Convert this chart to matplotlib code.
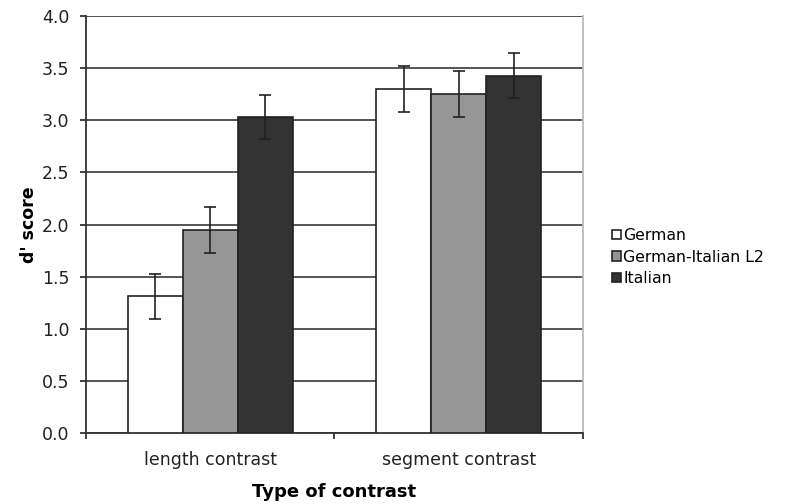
import numpy as np
import matplotlib.pyplot as plt
from matplotlib.ticker import MultipleLocator, FixedLocator

# Data
categories = ["length contrast", "segment contrast"]
groups = ["German", "German-Italian L2", "Italian"]
german = [1.31, 3.30]
german_l2 = [1.95, 3.25]
italian = [3.03, 3.43]
german_err = [0.22, 0.22]
german_l2_err = [0.22, 0.22]
italian_err = [0.21, 0.22]

values = [german, german_l2, italian]
errors = [german_err, german_l2_err, italian_err]
colors = ["white", "#969696", "#333333"]

fig = plt.figure(figsize=(7.9, 5.04), dpi=100)
ax = fig.add_axes([0.1089, 0.1409, 0.629, 0.827])

x = np.arange(len(categories))
width = 0.221
offsets = [-width, 0, width]

handles = []
for vals, errs, col, off, name in zip(values, errors, colors, offsets, groups):
    b = ax.bar(x + off, vals, width, color=col, edgecolor="#222222", linewidth=1.2,
               zorder=3, label=name)
    ax.errorbar(x + off, vals, yerr=errs, fmt="none", ecolor="#222222",
                elinewidth=1.2, capsize=4, capthick=1.2, zorder=4)
    handles.append(b)

ax.set_xlim(-0.5, len(categories) - 0.5)
ax.set_ylim(0, 4.0)
ax.yaxis.set_major_locator(MultipleLocator(0.5))
ax.yaxis.set_major_formatter(plt.FormatStrFormatter("%.1f"))
ax.yaxis.grid(True, color="#555555", linewidth=1.4, zorder=0)
ax.set_axisbelow(True)

ax.set_xticks(x)
ax.set_xticklabels(categories, fontsize=12.5, color="#222222")
ax.tick_params(axis="x", which="major", length=0, pad=13)
ax.xaxis.set_minor_locator(FixedLocator([-0.5, 0.5, 1.5]))
ax.tick_params(axis="x", which="minor", length=4, width=1.3, color="#333333")
ax.tick_params(axis="y", length=4, width=1.3, color="#333333", pad=8,
               labelsize=12.5, labelcolor="#222222")

ax.spines["top"].set_visible(False)
ax.spines["right"].set_color("#bbbbbb")
ax.spines["right"].set_linewidth(1.3)
ax.spines["left"].set_color("#333333")
ax.spines["left"].set_linewidth(1.3)
ax.spines["bottom"].set_color("#333333")
ax.spines["bottom"].set_linewidth(1.3)

ax.set_ylabel("d' score", fontsize=12.5, fontweight="bold", labelpad=3)
ax.set_xlabel("Type of contrast", fontsize=13, fontweight="bold", labelpad=10)

fig.legend(handles=handles, labels=groups, loc="center left",
           bbox_to_anchor=(0.767, 0.49), frameon=False, fontsize=11.3,
           handlelength=0.55, handleheight=0.55, handletextpad=0.15,
           labelspacing=0.4, borderaxespad=0)

plt.savefig("out.png", dpi=100)
